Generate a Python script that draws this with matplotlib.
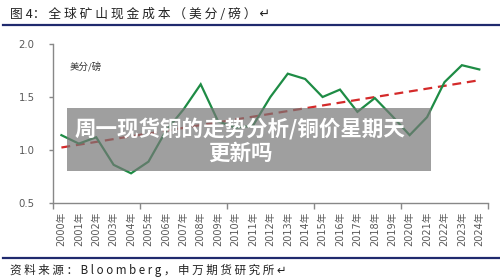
import numpy as np
import matplotlib
matplotlib.use("Agg")
import matplotlib.pyplot as plt
from matplotlib.patches import Rectangle
from matplotlib.lines import Line2D

plt.rcParams['font.family'] = ['Noto Sans CJK SC', 'DejaVu Sans']

years = [str(y) + "年" for y in range(2000, 2025)]
cash_cost = [1.14, 1.06, 1.12, 0.86, 0.78, 0.89, 1.18, 1.38, 1.62, 1.27,
             1.21, 1.23, 1.50, 1.72, 1.67, 1.50, 1.57, 1.36, 1.49, 1.32,
             1.14, 1.31, 1.64, 1.80, 1.76]
yticks = [0.5, 1.0, 1.5, 2.0]

title = "图 4： 全 球 矿 山 现 金 成 本 （ 美 分 / 磅 ） ↵"
source = "资 料 来 源 ： B l o o m b e r g ， 申 万 期 货 研 究 所 ↵"
unit = "美分/磅"
overlay = "周一现货铜的走势分析/铜价星期天\n更新吗"

fig = plt.figure(figsize=(5.0, 2.79), dpi=100)
fig.patch.set_facecolor("white")

ax = fig.add_axes([0.1054, 0.2724, 0.8706, 0.5699])
x = np.arange(len(years))
ax.plot(x, cash_cost, color="#1e8c45", lw=1.6, zorder=3, solid_joinstyle="miter")
coef = np.polyfit(x, cash_cost, 1)
trend = np.polyval(coef, x)
ax.plot(x, trend, color="#d42a2a", lw=1.6, dashes=(4, 2.6), zorder=2)

ax.set_xlim(-0.5, len(years) - 0.5)
ax.set_ylim(0.5, 2.0)
ax.set_yticks(yticks)
ax.set_yticklabels([f"{v:.1f}" for v in yticks], fontsize=7.3, color="#595959",
                   family=['DejaVu Sans'])
ax.set_xticks(x)
ax.set_xticklabels(years, rotation=90, fontsize=7.0, color="#595959",
                   family=['DejaVu Sans', 'Noto Sans CJK SC'])
ax.tick_params(axis='x', length=0, pad=6)
ax.set_xticks(np.arange(-0.5, len(years), 5), minor=True)
ax.tick_params(axis='x', which='minor', length=4, color="#888888", width=1)
ax.tick_params(axis='y', length=3, color="#888888", width=1, pad=10)
for s in ['top', 'right']:
    ax.spines[s].set_visible(False)
for s in ['left', 'bottom']:
    ax.spines[s].set_color("#888888")
    ax.spines[s].set_linewidth(1.0)
ax.set_facecolor("white")

ax.text(0.04, 0.855, unit, transform=ax.transAxes,
        fontsize=6.8, color="#333333", va="center", ha="left")

# overlay box
fig.patches.append(Rectangle((0.1334, 0.387), 0.7286, 0.2258, transform=fig.transFigure,
                             facecolor="#777777", alpha=0.7, edgecolor="none", zorder=5))
fig.text(0.48, 0.495, overlay, ha="center", va="center", multialignment="center",
         fontsize=15.5, fontweight="bold", color="white", linespacing=1.15, zorder=6)

# title and rules
fig.text(0.02, 0.948, title, fontsize=9.2, color="#222222", va="center", ha="left")
fig.add_artist(Line2D([0.006, 1.0], [0.912, 0.912], transform=fig.transFigure,
                      color="#1f2a6e", lw=1.6))
fig.add_artist(Line2D([0.006, 1.0], [0.075, 0.075], transform=fig.transFigure,
                      color="#1f2a6e", lw=1.6))
fig.text(0.02, 0.032, source, fontsize=8.3, color="#222222", va="center", ha="left")

fig.savefig("out.png", dpi=100, facecolor="white")
